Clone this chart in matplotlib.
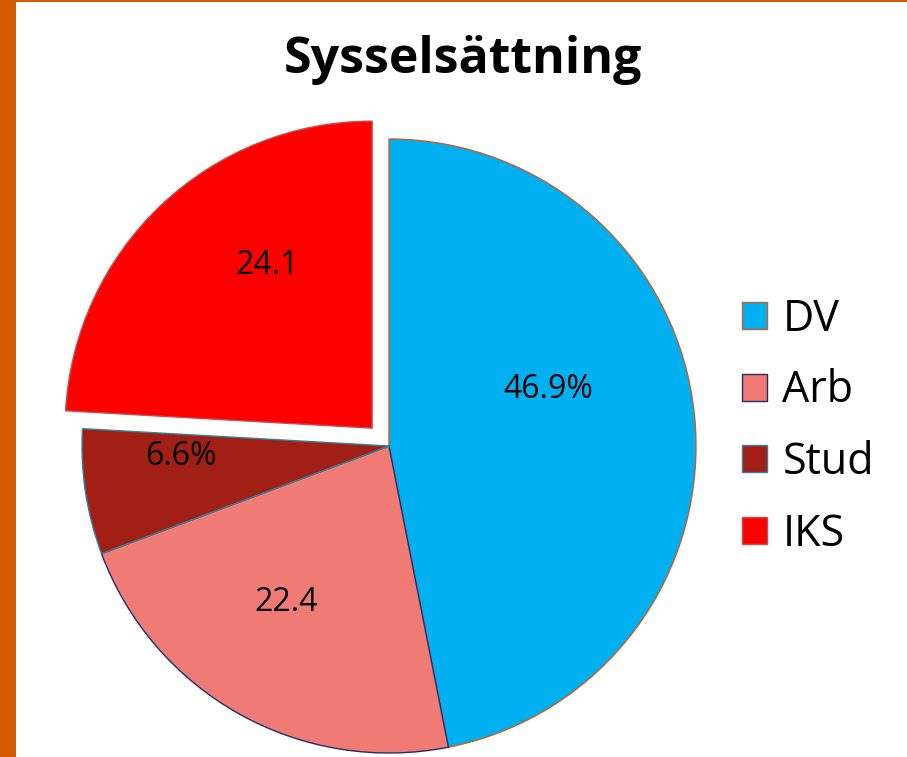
import numpy as np
import matplotlib
matplotlib.use("Agg")
import matplotlib.pyplot as plt
from matplotlib.patches import Rectangle

categories = ["DV", "Arb", "Stud", "IKS"]
values = [46.9, 22.4, 6.6, 24.1]
value_labels = ["46.9%", "22.4", "6.6%", "24.1"]
title = "Sysselsättning"

colors = ["#00B0F0", "#F07A74", "#A21F16", "#FF0000"]
edges = ["#C0602A", "#1F2F6E", "#31849B", "#C0504D"]
explode = [0, 0, 0, 0.08]
# label placement (radius fraction, angle in degrees) per slice
label_r = [0.55, 0.61, 0.68, 0.63]
label_ang = [19.4, 236.6, 183.0, 123.0]

W, H, DPI = 907, 757, 100
fig = plt.figure(figsize=(W / DPI, H / DPI), dpi=DPI)
fig.patch.set_facecolor("white")

cx, cy, R = 389, 446, 307
span = 1.2
axw = 2 * span * R
ax = fig.add_axes([(cx - axw / 2) / W, (H - cy - axw / 2) / H, axw / W, axw / H])
wedges, _ = ax.pie(values, colors=colors, explode=explode, startangle=90,
                   counterclock=False, radius=1.0,
                   wedgeprops=dict(linewidth=1.0))
for w, ec in zip(wedges, edges):
    w.set_edgecolor(ec)
ax.set_xlim(-span, span)
ax.set_ylim(-span, span)
ax.set_aspect("auto")
ax.axis("off")

for w, lab, r, a in zip(wedges, value_labels, label_r, label_ang):
    c = w.center
    ax.text(c[0] + r * np.cos(np.radians(a)), c[1] + r * np.sin(np.radians(a)),
            lab, ha="center", va="center", fontsize=23, family="Open Sans",
            color="black")

fig.text(463 / W, 1 - 60 / H, title, ha="center", va="center",
         fontsize=36, fontweight="bold", family="Open Sans")

leg = fig.legend(wedges, categories, loc="center left",
                 bbox_to_anchor=(742 / W, 1 - 427 / H), frameon=False,
                 prop=dict(family="Open Sans", size=31),
                 handlelength=0.58, handleheight=0.58, handletextpad=0.36,
                 labelspacing=0.63, borderpad=0, borderaxespad=0)

orange = "#D35A00"
fig.patches.append(Rectangle((0, 0), 16 / W, 1, transform=fig.transFigure,
                             facecolor=orange, edgecolor="none", zorder=10))
fig.patches.append(Rectangle((0, 1 - 2 / H), 1, 2 / H, transform=fig.transFigure,
                             facecolor=orange, edgecolor="none", zorder=10))

fig.savefig("out.png", dpi=DPI)
